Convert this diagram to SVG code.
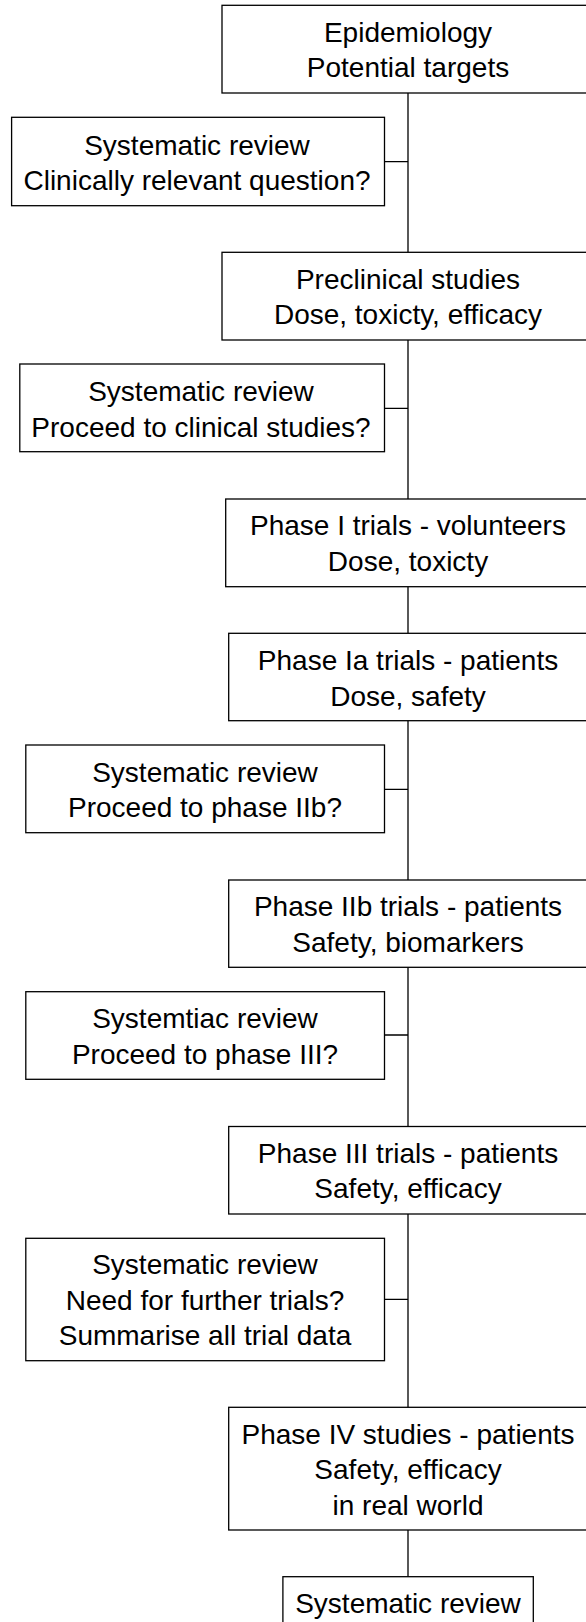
<svg xmlns="http://www.w3.org/2000/svg" width="586" height="1622" viewBox="0 0 586 1622">
<style>
.box{fill:#fff;stroke:#000;stroke-width:1.3}
.t{font-family:"Liberation Sans",Arial,sans-serif;font-size:28px;fill:#000;text-anchor:middle}
.c{stroke:#000;stroke-width:1.3;fill:none}
</style>
<rect width="586" height="1622" fill="#fff"/>
<g id="connectors">
<path class="c" d="M408,93 V252 M384.5,161.7 H408 M408,340 V499 M384.5,408.3 H408 M408,586.7 V633.3 M408,720.7 V880 M384.5,789.3 H408 M408,967.3 V1126.5 M384.5,1035 H408 M408,1214 V1407.3 M384.5,1299.3 H408 M408,1530 V1576.7"/>
</g>
<g id="n1"><rect class="box" x="222" y="5.3" width="372" height="87.7"/>
<text class="t" x="408" y="41.7">Epidemiology</text><text class="t" x="408" y="77.2">Potential targets</text></g>
<g id="n2"><rect class="box" x="11.6" y="117.3" width="372.9" height="88.4"/>
<text class="t" x="197" y="155">Systematic review</text><text class="t" x="197" y="190">Clinically relevant question?</text></g>
<g id="n3"><rect class="box" x="222" y="252.3" width="372" height="87.7"/>
<text class="t" x="408" y="288.5">Preclinical studies</text><text class="t" x="408" y="324">Dose, toxicty, efficacy</text></g>
<g id="n4"><rect class="box" x="19.8" y="364" width="364.7" height="87.7"/>
<text class="t" x="201" y="401">Systematic review</text><text class="t" x="201" y="436.5">Proceed to clinical studies?</text></g>
<g id="n5"><rect class="box" x="225.7" y="499" width="364.6" height="87.7"/>
<text class="t" x="408" y="535">Phase I trials - volunteers</text><text class="t" x="408" y="570.5">Dose, toxicty</text></g>
<g id="n6"><rect class="box" x="228.7" y="633.3" width="358.6" height="87.4"/>
<text class="t" x="408" y="670">Phase Ia trials - patients</text><text class="t" x="408" y="705.5">Dose, safety</text></g>
<g id="n7"><rect class="box" x="25.8" y="745" width="358.7" height="87.7"/>
<text class="t" x="205" y="781.7">Systematic review</text><text class="t" x="205" y="817.2">Proceed to phase IIb?</text></g>
<g id="n8"><rect class="box" x="228.7" y="880" width="358.6" height="87.3"/>
<text class="t" x="408" y="916">Phase IIb trials - patients</text><text class="t" x="408" y="951.5">Safety, biomarkers</text></g>
<g id="n9"><rect class="box" x="25.8" y="991.7" width="358.7" height="87.6"/>
<text class="t" x="205" y="1028.3">Systemtiac review</text><text class="t" x="205" y="1063.8">Proceed to phase III?</text></g>
<g id="n10"><rect class="box" x="228.7" y="1126.5" width="358.6" height="87.5"/>
<text class="t" x="408" y="1162.7">Phase III trials - patients</text><text class="t" x="408" y="1198.2">Safety, efficacy</text></g>
<g id="n11"><rect class="box" x="25.8" y="1238.3" width="358.7" height="122.4"/>
<text class="t" x="205" y="1274.3">Systematic review</text><text class="t" x="205" y="1309.8">Need for further trials?</text><text class="t" x="205" y="1345.3">Summarise all trial data</text></g>
<g id="n12"><rect class="box" x="228.7" y="1407.3" width="358.6" height="122.7"/>
<text class="t" x="408" y="1443.7">Phase IV studies - patients</text><text class="t" x="408" y="1479.2">Safety, efficacy</text><text class="t" x="408" y="1514.7">in real world</text></g>
<g id="n13"><rect class="box" x="282.9" y="1576.7" width="250.4" height="60"/>
<text class="t" x="408" y="1612.5">Systematic review</text></g>
</svg>
